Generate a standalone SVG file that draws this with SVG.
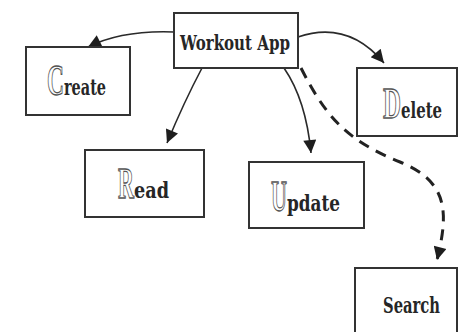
<svg xmlns="http://www.w3.org/2000/svg" width="458" height="332" viewBox="0 0 458 332">
  <style>
    .box { fill: #fff; stroke: #333; stroke-width: 2; }
    .lbl { font-family: "DejaVu Serif", "Liberation Serif", serif; font-weight: bold; fill: #262626; }
    .cap { font-family: "Liberation Serif", "DejaVu Serif", serif; font-weight: bold; font-size: 45px; fill: #fff; stroke: #555; stroke-width: 1.3; }
    .edge { fill: none; stroke: #2a2a2a; stroke-width: 1.6; }
    .dash { fill: none; stroke: #222; stroke-width: 3; stroke-dasharray: 11 8; }
  </style>
  <defs>
    <marker id="head" viewBox="0 0 10 10" refX="10" refY="5" markerUnits="userSpaceOnUse" markerWidth="17" markerHeight="13" orient="auto">
      <path d="M0,0 L10,5 L0,10 Z" fill="#1e1e1e"/>
    </marker>
  </defs>
  <rect width="458" height="332" fill="#fff"/>

  <g id="connectors">
    <path class="edge" d="M174,32 Q122,30 88,47" marker-end="url(#head)"/>
    <path class="edge" d="M202,68 Q184,102 167,143" marker-end="url(#head)"/>
    <path class="edge" d="M284,68 Q306,100 311,153" marker-end="url(#head)"/>
    <path class="edge" d="M298,37 Q348,20 384,63" marker-end="url(#head)"/>
    <path class="dash" d="M301,68 C325,115 345,140 400,162 C450,182 448,215 437,260" marker-end="url(#head)"/>
  </g>

  <g id="workout-app">
    <rect class="box" x="174" y="13" width="124" height="55"/>
    <text class="lbl" x="180" y="50" font-size="20" textLength="110" lengthAdjust="spacingAndGlyphs">Workout App</text>
  </g>

  <g id="create">
    <rect class="box" x="26" y="47" width="104" height="68"/>
    <text x="47" y="95"><tspan class="cap" textLength="17" lengthAdjust="spacingAndGlyphs">C</tspan><tspan class="lbl" font-size="22" textLength="42" lengthAdjust="spacingAndGlyphs">reate</tspan></text>
  </g>

  <g id="read">
    <rect class="box" x="85" y="150" width="119" height="67"/>
    <text x="118" y="198"><tspan class="cap" textLength="16" lengthAdjust="spacingAndGlyphs">R</tspan><tspan class="lbl" font-size="22" textLength="35" lengthAdjust="spacingAndGlyphs">ead</tspan></text>
  </g>

  <g id="update">
    <rect class="box" x="249" y="162" width="115" height="66"/>
    <text x="271" y="211"><tspan class="cap" textLength="16" lengthAdjust="spacingAndGlyphs">U</tspan><tspan class="lbl" font-size="22" textLength="53" lengthAdjust="spacingAndGlyphs">pdate</tspan></text>
  </g>

  <g id="delete">
    <rect class="box" x="357" y="68" width="100" height="68"/>
    <text x="383" y="118"><tspan class="cap" textLength="18" lengthAdjust="spacingAndGlyphs">D</tspan><tspan class="lbl" font-size="22" textLength="41" lengthAdjust="spacingAndGlyphs">elete</tspan></text>
  </g>

  <g id="search">
    <rect class="box" x="355" y="268" width="102" height="70"/>
    <text class="lbl" x="383" y="313" font-size="22" textLength="57" lengthAdjust="spacingAndGlyphs">Search</text>
  </g>
</svg>
